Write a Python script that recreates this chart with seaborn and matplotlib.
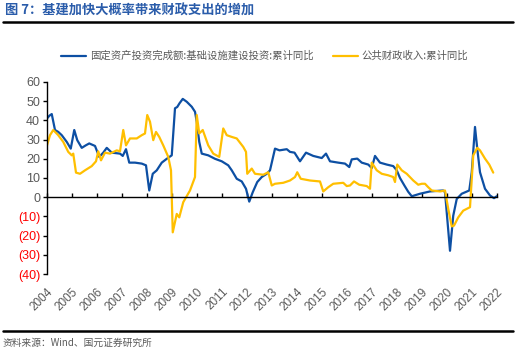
import numpy as np
import pandas as pd
import seaborn as sns
import matplotlib
matplotlib.use("Agg")
import matplotlib.pyplot as plt
from matplotlib.lines import Line2D

# ---------------- data ----------------
title = "图 7：基建加快大概率带来财政支出的增加"
source = "资料来源：Wind、国元证券研究所"
name_infra = "固定资产投资完成额:基础设施建设投资:累计同比"
name_fiscal = "公共财政收入:累计同比"

infra_t = [2004.0, 2004.1, 2004.19, 2004.32, 2004.45, 2004.59, 2004.79, 2004.95, 2005.09, 2005.21,
           2005.39, 2005.55, 2005.69, 2005.92, 2006.09, 2006.25, 2006.39, 2006.59, 2006.92, 2007.03,
           2007.16, 2007.29, 2007.52, 2007.79, 2007.96, 2008.09, 2008.23, 2008.39, 2008.59, 2008.79,
           2008.99, 2009.12, 2009.21, 2009.3, 2009.43, 2009.59, 2009.79, 2009.92, 2009.99, 2010.09,
           2010.19, 2010.45, 2010.72, 2010.99, 2011.25, 2011.39, 2011.59, 2011.79, 2011.96, 2012.09,
           2012.23, 2012.41, 2012.59, 2012.79, 2012.92, 2013.12, 2013.3, 2013.59, 2013.72, 2013.9,
           2014.12, 2014.36, 2014.65, 2014.99, 2015.16, 2015.32, 2015.65, 2015.92, 2016.09, 2016.19,
           2016.41, 2016.59, 2016.85, 2016.99, 2017.12, 2017.32, 2017.59, 2017.85, 2017.99, 2018.12,
           2018.3, 2018.45, 2018.59, 2018.92, 2019.32, 2019.85, 2019.92, 2020.12, 2020.25, 2020.39,
           2020.59, 2020.89, 2020.99, 2021.12, 2021.21, 2021.32, 2021.52, 2021.72, 2021.88, 2021.99]
infra_v = [41, 42.5, 43.3, 35, 34, 32.3, 28.8, 25.3, 35, 29.7,
           25.7, 27, 28, 26.7, 21, 23.2, 25.7, 23.2, 22.7, 21.5,
           25, 18, 18, 17.5, 16.6, 3.5, 12.2, 14, 18, 20,
           21.8, 46.3, 47, 48.9, 51.2, 49.7, 47.1, 44.5, 39.3, 28.8,
           22.7, 21.8, 20, 18.7, 16.6, 14, 9.6, 8.2, 4.4, -2.3,
           2.6, 7.9, 10.5, 12.2, 14, 25.3, 24.4, 25, 23.6, 23.2,
           18.7, 23.2, 21.5, 20.4, 22.7, 18.7, 18, 17.5, 15.7, 19.7,
           20.1, 18, 17, 15.2, 21.5, 18, 17, 16.2, 14, 10,
           6, 2.8, 0.5, 1.8, 3, 3.5, 2.6, -27.9, -9.6, -0.9,
           1.8, 3.5, 13, 36.6, 25.3, 13, 4.4, 0.9, -0.5, 0.5]

fiscal_t = [2004.0, 2004.12, 2004.25, 2004.45, 2004.65, 2004.85, 2004.99, 2005.05, 2005.16, 2005.32,
            2005.52, 2005.79, 2005.96, 2006.05, 2006.16, 2006.32, 2006.52, 2006.79, 2006.92, 2007.05,
            2007.16, 2007.32, 2007.59, 2007.79, 2007.92, 2008.01, 2008.12, 2008.25, 2008.36, 2008.49,
            2008.65, 2008.85, 2008.96, 2009.03, 2009.19, 2009.29, 2009.45, 2009.72, 2009.92, 2009.99,
            2010.09, 2010.23, 2010.45, 2010.65, 2010.89, 2011.05, 2011.19, 2011.39, 2011.59, 2011.85,
            2011.96, 2012.01, 2012.19, 2012.32, 2012.65, 2012.85, 2012.99, 2013.12, 2013.45, 2013.72,
            2013.92, 2014.01, 2014.15, 2014.52, 2014.92, 2015.05, 2015.25, 2015.45, 2015.85, 2015.99,
            2016.12, 2016.28, 2016.49, 2016.79, 2016.92, 2016.99, 2017.19, 2017.39, 2017.65, 2017.85,
            2017.92, 2018.01, 2018.19, 2018.39, 2018.65, 2018.85, 2018.99, 2019.12, 2019.25, 2019.39,
            2019.72, 2019.92, 2020.05, 2020.19, 2020.28, 2020.45, 2020.65, 2020.92, 2021.05, 2021.21,
            2021.32, 2021.52, 2021.69, 2021.85]
fiscal_v = [27, 32.3, 35, 32.3, 28.8, 23.6, 21.8, 22.7, 12.8, 12.2,
            14, 16.2, 18.7, 23.9, 19.2, 23.2, 22.7, 24.4, 23.9, 35,
            27, 30.6, 30.6, 32.3, 33.2, 42.8, 39.3, 29.7, 34, 31.4,
            27, 21, 14, -18.3, -8.7, -10.5, -2.6, 3.5, 10.5, 42.8,
            33.2, 35, 27, 22.7, 21, 35.8, 32.3, 31.4, 30.6, 26.2,
            23.6, 12.2, 14.9, 12.2, 11.7, 13, 6.1, 7, 7.5, 8.7,
            10.5, 13, 9.6, 8.7, 8.2, 3, 5.2, 7, 7.5, 5.8,
            6.1, 8.2, 6.5, 5.8, 4.4, 18, 14, 12.2, 11.4, 10.5,
            7.9, 17, 14, 12.2, 8.7, 6.5, 7, 7, 5.2, 3.5,
            3, 3.5, -6.1, -15.2, -14.8, -10.5, -7, -5.2, 21.8, 25.7,
            24.4, 20.1, 17, 12.8]

years = list(range(2004, 2023))
yticks = [60, 50, 40, 30, 20, 10, 0, -10, -20, -30, -40]

# ---------------- style ----------------
sns.set_theme(style="white")
plt.rcParams['font.family'] = ['Noto Sans CJK SC', 'DejaVu Sans']
plt.rcParams['axes.unicode_minus'] = False

BLUE = "#0D4FA3"
YELLOW = "#FFBF00"
GRAY = "#595959"

fig = plt.figure(figsize=(5.19, 3.56), dpi=100)
ax = fig.add_axes([47/519, 1-274/356, (497-47)/519, (274-82)/356])

df_i = pd.DataFrame({"t": infra_t, "v": infra_v})
df_f = pd.DataFrame({"t": fiscal_t, "v": fiscal_v})
sns.lineplot(data=df_i, x="t", y="v", ax=ax, color=BLUE, lw=1.6, label=name_infra, legend=False)
sns.lineplot(data=df_f, x="t", y="v", ax=ax, color=YELLOW, lw=1.6, label=name_fiscal, legend=False)

ax.set_xlim(2004, 2022)
ax.set_ylim(-40, 60)
ax.set_xlabel("")
ax.set_ylabel("")

for s in ["top", "right"]:
    ax.spines[s].set_visible(False)
ax.spines["left"].set_color("black")
ax.spines["left"].set_linewidth(1.0)
ax.spines["bottom"].set_position(("data", 0))
ax.spines["bottom"].set_color("black")
ax.spines["bottom"].set_linewidth(1.0)

ax.set_yticks(yticks)
ylabels = [str(v) if v >= 0 else f"({-v})" for v in yticks]
ax.set_yticklabels(ylabels, fontsize=9, family=['Liberation Sans', 'DejaVu Sans'])
for lab, v in zip(ax.get_yticklabels(), yticks):
    lab.set_color(GRAY if v >= 0 else "#FF0000")
ax.tick_params(axis="y", direction="out", length=3, width=1, color="black", left=True, pad=2)

ax.set_xticks(years)
ax.set_xticklabels([str(y) for y in years], rotation=45, ha="right", rotation_mode="anchor",
                   fontsize=8.5, color=GRAY, family=['Liberation Sans', 'DejaVu Sans'])
ax.tick_params(axis="x", direction="in", length=3, width=1, color="black", bottom=True, pad=64)

# legend
handles = [Line2D([], [], color=BLUE, lw=1.6), Line2D([], [], color=YELLOW, lw=1.6)]
fig.legend(handles, [name_infra, name_fiscal], loc="center", bbox_to_anchor=(0.51, 1-56/356),
           ncol=2, frameon=False, fontsize=7.5, handlelength=2.4, columnspacing=1.8,
           handletextpad=0.4, labelcolor=GRAY)

# title & source
fig.text(5/519, 1-11/356, title, fontsize=9.5, fontweight="bold", color="#2A5CAA",
         va="center", ha="left")
fig.add_artist(Line2D([3/519, 513/519], [1-22/356, 1-22/356], color="black", lw=1.8))
fig.add_artist(Line2D([3/519, 513/519], [1-331/356, 1-331/356], color="black", lw=1.8))
fig.text(3/519, 1-343/356, source, fontsize=7, color=GRAY, va="center", ha="left")

fig.savefig("out.png", dpi=100)
